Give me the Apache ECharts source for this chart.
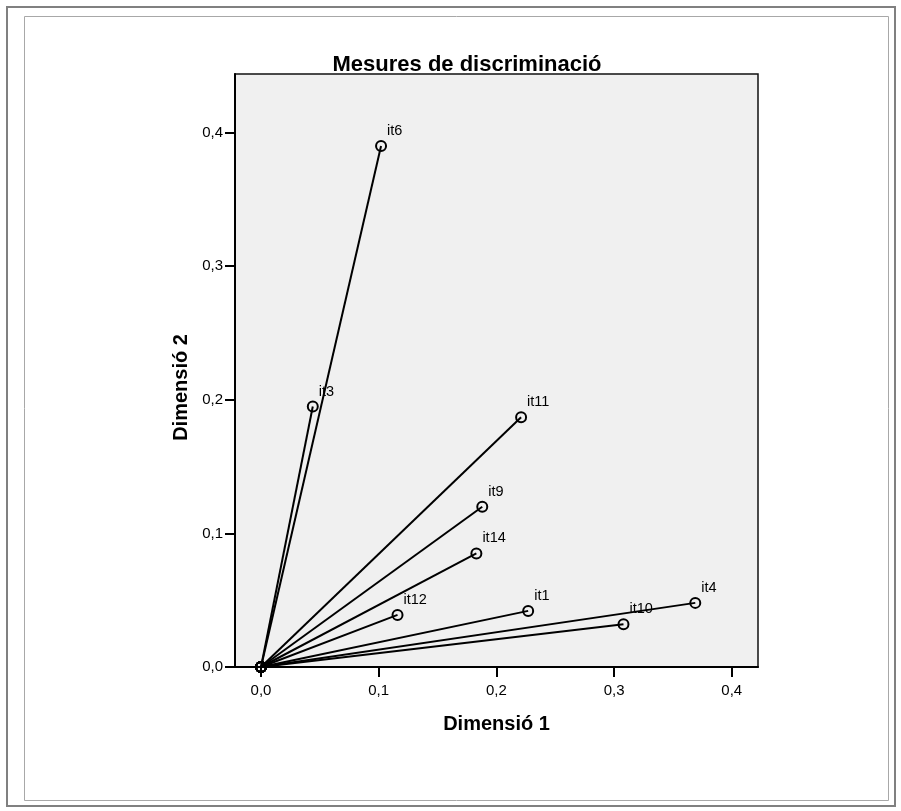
<!DOCTYPE html>
<html>
<head>
<meta charset="utf-8">
<script src="https://cdn.jsdelivr.net/npm/echarts@6/dist/echarts.min.js"></script>
<style>html,body{margin:0;padding:0;background:#fff}#c{width:901px;height:811px}</style>
</head>
<body>
<div id="c"></div>
<script>
// Data
var items = ['it1', 'it3', 'it4', 'it6', 'it9', 'it10', 'it11', 'it12', 'it14'];
var dim1 = [0.227, 0.044, 0.369, 0.102, 0.188, 0.308, 0.221, 0.116, 0.183];
var dim2 = [0.042, 0.195, 0.048, 0.390, 0.120, 0.032, 0.187, 0.039, 0.085];
var tickValues = [0, 0.1, 0.2, 0.3, 0.4];
var titleText = 'Mesures de discriminació';
var xName = 'Dimensió 1';
var yName = 'Dimensió 2';

var FONT = '"Liberation Sans", Arial, sans-serif';
function fmt(v) { return v.toFixed(1).replace('.', ','); }

var series = items.map(function (name, i) {
  return {
    type: 'line',
    name: name,
    data: [
      { value: [0, 0], label: { show: false } },
      { value: [dim1[i], dim2[i]] }
    ],
    symbol: 'circle',
    symbolSize: 10,
    showAllSymbol: true,
    lineStyle: { color: '#000', width: 2 },
    itemStyle: { color: 'rgba(0,0,0,0)', borderColor: '#000', borderWidth: 2 },
    label: {
      show: true,
      formatter: name,
      position: 'inside',
      align: 'left',
      verticalAlign: 'middle',
      offset: [6, -15],
      color: '#000',
      fontFamily: FONT,
      fontSize: 14.5
    },
    emphasis: { disabled: true },
    animation: false,
    silent: true
  };
});

var chart = echarts.init(document.getElementById('c'), null, { renderer: 'canvas' });
chart.setOption({
  backgroundColor: '#fff',
  animation: false,
  title: {
    text: titleText,
    left: 462,
    textAlign: 'center',
    top: 49,
    textStyle: { fontFamily: FONT, fontSize: 22, fontWeight: 'bold', color: '#000' }
  },
  grid: {
    left: 235, right: 143, top: 74, bottom: 144,
    show: true, backgroundColor: '#f0f0f0', borderColor: '#111', borderWidth: 1.5
  },
  xAxis: {
    type: 'value',
    min: -0.0221, max: 0.4223,
    name: xName,
    nameLocation: 'middle',
    nameGap: 47,
    nameTextStyle: { fontFamily: FONT, fontSize: 20, fontWeight: 'bold', color: '#000' },
    splitLine: { show: false },
    axisLine: { show: true, onZero: false, lineStyle: { color: '#000', width: 2 } },
    axisTick: { show: true, length: 10, lineStyle: { color: '#000', width: 2 }, customValues: tickValues },
    axisLabel: { margin: 16, fontFamily: FONT, fontSize: 15, color: '#000', customValues: tickValues, formatter: fmt }
  },
  yAxis: {
    type: 'value',
    min: 0, max: 0.4439,
    name: yName,
    nameLocation: 'middle',
    nameGap: 35,
    nameTextStyle: { fontFamily: FONT, fontSize: 20, fontWeight: 'bold', color: '#000', padding: [0, 34, 0, 0] },
    splitLine: { show: false },
    axisLine: { show: true, onZero: false, lineStyle: { color: '#000', width: 2 } },
    axisTick: { show: true, length: 10, lineStyle: { color: '#000', width: 2 }, customValues: tickValues },
    axisLabel: { margin: 12, fontFamily: FONT, fontSize: 15, color: '#000', customValues: tickValues, formatter: fmt }
  },
  graphic: [
    { type: 'rect', silent: true, shape: { x: 7, y: 7, width: 888, height: 799 }, style: { fill: 'none', stroke: '#808080', lineWidth: 2 } },
    { type: 'rect', silent: true, shape: { x: 24.5, y: 16.5, width: 864, height: 784 }, style: { fill: 'none', stroke: '#a8a8a8', lineWidth: 1 } }
  ],
  series: series
});
</script>
</body>
</html>
